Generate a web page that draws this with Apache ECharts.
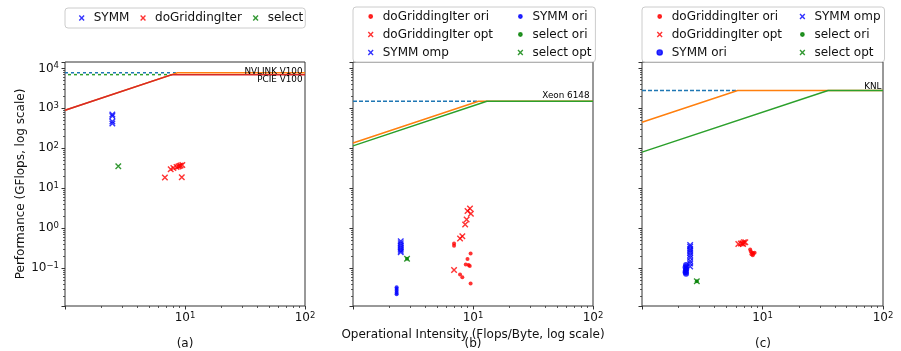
<!DOCTYPE html>
<html><head><meta charset="utf-8">
<script src="https://cdn.jsdelivr.net/npm/echarts@6/dist/echarts.min.js"></script>
<style>html,body{margin:0;padding:0;background:#fff}#c{width:901px;height:351px}</style>
</head><body><div id="c"></div>
<script>
// ---------- data ----------
const xRange = [1, 100];
const yRange = [0.0112, 14500];
const xTickLabels = [10, 100];
const yTickLabels = [0.1, 1, 10, 100, 1000, 10000];
const captions = ['(a)', '(b)', '(c)'];

// panel (a): GPU
const aSymm = [[2.48,700],[2.48,640],[2.48,470],[2.48,420]];
const aDoGridding = [[6.8,18.5],[7.6,30],[8.0,32],[8.5,34],[8.8,35],[9.0,36],[9.2,37],[9.5,38],[9.4,18.9]];
const aSelect = [[2.78,35.5]];
const aRoofNames = ['NVLINK V100', 'PCIE V100'];
const aPeak = [7800, 7000];
const aBandwidth = [900, 900];

// panel (b): Xeon 6148
const bDgiOri = [[6.95,0.41],[6.95,0.36],[9.55,0.23],[9.0,0.168],[8.7,0.123],[9.2,0.12],[9.4,0.112],[7.8,0.069],[8.15,0.059],[9.55,0.041]];
const bDgiOpt = [[9.44,3.1],[9.0,2.7],[9.6,2.3],[8.85,1.65],[8.6,1.24],[8.15,0.63],[7.8,0.55],[6.95,0.089]];
const bSymmOmp = [[2.5,0.47],[2.5,0.42],[2.5,0.37],[2.5,0.33],[2.5,0.30],[2.5,0.27],[2.5,0.25]];
const bSymmOri = [[2.31,0.033],[2.31,0.030],[2.31,0.027],[2.31,0.024],[2.31,0.022]];
const bSelectOri = [[2.82,0.17]];
const bSelectOpt = [[2.82,0.17]];
const bRoofName = 'Xeon 6148';
const bPeak = 1500;
const bBandwidth = [135, 115];

// panel (c): KNL
const cDgiOri = [[7.9,0.29],[8.0,0.26],[8.2,0.24],[8.4,0.23],[8.6,0.24],[8.3,0.21],[8.1,0.22]];
const cDgiOpt = [[6.3,0.40],[6.6,0.41],[6.8,0.42],[7.0,0.44],[7.2,0.44],[6.9,0.40]];
const cSymmOri = [[2.32,0.12],[2.30,0.105],[2.33,0.095],[2.31,0.085],[2.30,0.078],[2.32,0.072]];
const cSymmOmp = [[2.51,0.38],[2.51,0.34],[2.51,0.30],[2.51,0.27],[2.51,0.24],[2.51,0.21],[2.51,0.18],[2.51,0.15],[2.51,0.13],[2.51,0.11]];
const cSelectOri = [[2.85,0.047]];
const cSelectOpt = [[2.85,0.047]];
const cRoofName = 'KNL';
const cPeak = 2800;
const cBandwidth = [450, 80];

// ---------- styles ----------
const RED='#ff0000', BLUE='#0000ff', GREEN='#008000';
const C0='#1f77b4', C1='#ff7f0e', C2='#2ca02c', C3='#d62728';
const FONT='DejaVu Sans';
const X_SYM='path://M0,0L10,10M10,0L0,10';
const X_ICON='path://M0,0M10,10M2.6,2.6L7.4,7.4M7.4,2.6L2.6,7.4';
const DOT_ICON='path://M0,0M10,10M6.7,5A1.7,1.7,0,1,1,3.3,5A1.7,1.7,0,1,1,6.7,5Z';
const BIGDOT_ICON='path://M0,0M10,10M7.6,5A2.6,2.6,0,1,1,2.4,5A2.6,2.6,0,1,1,7.6,5Z';

function sc(name, data, idx, kind, color) {
  const s = {type:'scatter', name, data, xAxisIndex: idx, yAxisIndex: idx, silent:true, z:5};
  if (kind === 'x') { s.symbol = X_SYM; s.symbolSize = 5.5; s.itemStyle = {color, borderColor: color, borderWidth: 1.4}; }
  else if (kind === 'dot') { s.symbol = 'circle'; s.symbolSize = 4; s.itemStyle = {color}; }
  else { s.symbol = 'circle'; s.symbolSize = 6; s.itemStyle = {color}; }
  return s;
}
function roof(idx, peak, bw, color, label) {
  const s = {type:'line', data:[[xRange[0], bw*xRange[0]], [peak/bw, peak], [xRange[1], peak]],
    xAxisIndex: idx, yAxisIndex: idx, symbol:'none', silent:true, z:3,
    lineStyle:{color, width:1.5}};
  if (label) {
    s.markPoint = {silent:true, symbol:'circle', symbolSize:1, itemStyle:{color:'rgba(0,0,0,0)'},
      label:Object.assign({show:true, formatter: label.text, fontSize:8.8, fontFamily:FONT, color:'#000', align:'right'}, label.style),
      data:[{coord:[xRange[1], peak]}]};
  }
  return s;
}
function dashed(idx, peak, bw, color, dash, offset) {
  return {type:'line', data:[[xRange[0], peak], [peak/bw, peak]], xAxisIndex: idx, yAxisIndex: idx,
    symbol:'none', silent:true, z:2, lineStyle:{color, width:1.5, type:dash, dashOffset:offset}};
}
function legItem(name, icon, color, width) {
  const it = {name, icon, itemStyle:{color, borderColor:color, borderWidth:1.4}};
  if (width) it.textStyle = {width};
  return it;
}
function powLabel(v, list) {
  const lv = Math.log10(v); const e = Math.round(lv);
  if (Math.abs(lv - e) > 1e-6) return '';
  if (!list.some(t => Math.abs(Math.log10(t) - e) < 1e-6)) return '';
  return '{b|10}{s|' + String(e).replace('-', '−') + '}';
}
const rich = {b:{fontSize:12, fontFamily:FONT, color:'#111', lineHeight:14},
              s:{fontSize:8.5, fontFamily:FONT, color:'#111', lineHeight:6, verticalAlign:'top'}};

const grids = [
  {left:65, top:62, width:240, height:244},
  {left:353, top:62, width:240, height:244},
  {left:642, top:62, width:241, height:244}
].map(g => Object.assign(g, {show:true, borderColor:'#333', borderWidth:1, backgroundColor:'#fff', containLabel:false}));

const tickStyle = {show:true, length:3.5, lineStyle:{color:'#333', width:1}};
const minorStyle = {show:true, splitNumber:9, length:2, lineStyle:{color:'#333', width:0.8}};

const xAxes = [0,1,2].map(i => ({
  type:'log', logBase:10, gridIndex:i, min:xRange[0], max:xRange[1],
  axisLine:{show:false}, axisTick:tickStyle, minorTick:minorStyle,
  splitLine:{show:false}, minorSplitLine:{show:false},
  axisLabel:{margin:5, formatter: v => powLabel(v, xTickLabels), rich},
  name: i === 1 ? 'Operational Intensity (Flops/Byte, log scale)' : '',
  nameLocation:'middle', nameGap:13,
  nameTextStyle:{fontSize:12, fontFamily:FONT, color:'#111', verticalAlign:'top'}
}));
const yAxes = [0,1,2].map(i => ({
  type:'log', logBase:10, gridIndex:i, min:yRange[0], max:yRange[1],
  axisLine:{show:false}, axisTick:tickStyle, minorTick:minorStyle,
  splitLine:{show:false}, minorSplitLine:{show:false},
  axisLabel:{show: i === 0, margin:6, formatter: v => powLabel(v, yTickLabels), rich},
  name: i === 0 ? 'Performance (GFlops, log scale)' : '',
  nameLocation:'middle', nameGap:35, nameRotate:90,
  nameTextStyle:{fontSize:12, fontFamily:FONT, color:'#111'}
}));

const series = [
  // panel a rooflines
  dashed(0, aPeak[0], aBandwidth[0], C0, [3,3], 0),
  roof(0, aPeak[0], aBandwidth[0], C1, {text:aRoofNames[0], style:{position:[-2,4], verticalAlign:'bottom'}}),
  dashed(0, aPeak[1], aBandwidth[1], C2, [3,3], 3),
  roof(0, aPeak[1], aBandwidth[1], C3, {text:aRoofNames[1], style:{position:[-2,1], verticalAlign:'top'}}),
  sc('SYMM', aSymm, 0, 'x', BLUE),
  sc('doGriddingIter', aDoGridding, 0, 'x', RED),
  sc('select', aSelect, 0, 'x', GREEN),
  // panel b
  dashed(1, bPeak, bBandwidth[0], C0, [4,2], 0),
  roof(1, bPeak, bBandwidth[0], C1),
  roof(1, bPeak, bBandwidth[1], C2, {text:bRoofName, style:{position:[-3,-1], verticalAlign:'bottom'}}),
  sc('doGriddingIter ori', bDgiOri, 1, 'dot', RED),
  sc('doGriddingIter opt', bDgiOpt, 1, 'x', RED),
  sc('SYMM omp', bSymmOmp, 1, 'x', BLUE),
  sc('SYMM ori', bSymmOri, 1, 'dot', BLUE),
  sc('select ori', bSelectOri, 1, 'dot', GREEN),
  sc('select opt', bSelectOpt, 1, 'x', GREEN),
  // panel c
  dashed(2, cPeak, cBandwidth[0], C0, [4,2], 0),
  roof(2, cPeak, cBandwidth[0], C1),
  roof(2, cPeak, cBandwidth[1], C2, {text:cRoofName, style:{position:[-1,1], verticalAlign:'bottom'}}),
  sc('doGriddingIter ori', cDgiOri, 2, 'dot', RED),
  sc('doGriddingIter opt', cDgiOpt, 2, 'x', RED),
  sc('SYMM ori', cSymmOri, 2, 'big', BLUE),
  sc('SYMM omp', cSymmOmp, 2, 'x', BLUE),
  sc('select ori', cSelectOri, 2, 'dot', GREEN),
  sc('select opt', cSelectOpt, 2, 'x', GREEN)
];

const legBase = {orient:'horizontal', itemWidth:10, itemHeight:10, selectedMode:false,
  backgroundColor:'#fff', borderColor:'#cccccc', borderWidth:1, borderRadius:3,
  textStyle:{fontSize:12, fontFamily:FONT, color:'#111', lineHeight:14, padding:[0,0,0,2]}};
const legends = [
  Object.assign({}, legBase, {left:65, top:8, padding:[3,2,3,11], itemGap:8,
    data:[legItem('SYMM', X_ICON, BLUE), legItem('doGriddingIter', X_ICON, RED), legItem('select', X_ICON, GREEN)]}),
  Object.assign({}, legBase, {left:353, top:7, width:300, padding:[2.5,3,2.5,12], itemGap:4,
    data:[legItem('doGriddingIter ori', DOT_ICON, RED, 128), legItem('SYMM ori', DOT_ICON, BLUE, 60),
          legItem('doGriddingIter opt', X_ICON, RED, 128), legItem('select ori', DOT_ICON, GREEN, 60),
          legItem('SYMM omp', X_ICON, BLUE, 128), legItem('select opt', X_ICON, GREEN, 60)]}),
  Object.assign({}, legBase, {left:642, top:7, width:290, padding:[2.5,4,2.5,12], itemGap:4,
    data:[legItem('doGriddingIter ori', DOT_ICON, RED, 121), legItem('SYMM omp', X_ICON, BLUE, 66),
          legItem('doGriddingIter opt', X_ICON, RED, 121), legItem('select ori', DOT_ICON, GREEN, 66),
          legItem('SYMM ori', BIGDOT_ICON, BLUE, 121), legItem('select opt', X_ICON, GREEN, 66)]})
];

const captionX = [185, 473, 763];
const graphic = captions.map((t, i) => ({type:'text', x:captionX[i], y:344, silent:true,
  style:{text:t, align:'center', verticalAlign:'middle', fontSize:12, fontFamily:FONT, fill:'#111'}}));

const chart = echarts.init(document.getElementById('c'), null, {renderer:'canvas'});
chart.setOption({
  animation:false,
  backgroundColor:'#fff',
  textStyle:{fontFamily:FONT},
  grid: grids, xAxis: xAxes, yAxis: yAxes, legend: legends, series, graphic
});
</script></body></html>
